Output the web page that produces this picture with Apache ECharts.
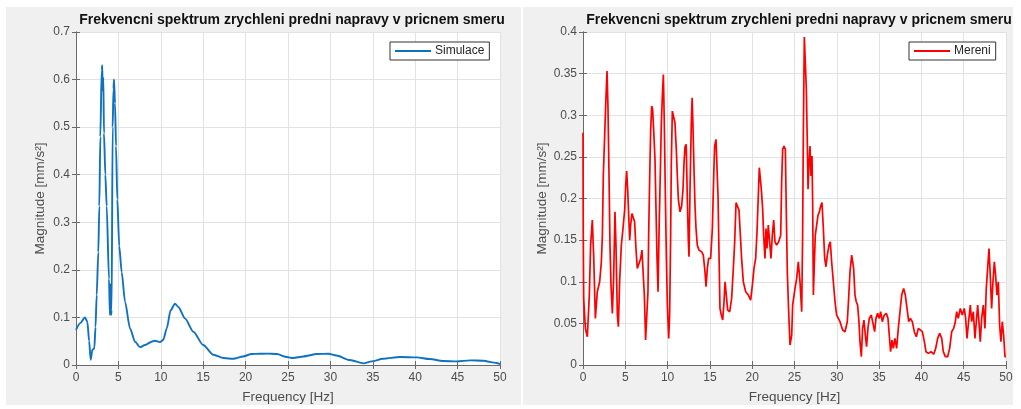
<!DOCTYPE html>
<html>
<head>
<meta charset="utf-8">
<script src="https://cdn.jsdelivr.net/npm/echarts@6/dist/echarts.min.js"></script>
<style>
  html, body { margin: 0; padding: 0; background: #ffffff; }
  #chart { width: 1021px; height: 409px; }
</style>
</head>
<body>
<div id="chart"></div>
<script>
// Titles and labels
const chartTitle = 'Frekvencni spektrum zrychleni predni napravy v pricnem smeru';
const xName = 'Frequency [Hz]';
const yName = 'Magnitude [mm/s²]';
const simName = 'Simulace';
const merName = 'Mereni';

// Simulated spectrum (frequency in Hz, magnitude in mm/s^2)
const simFreq = [0, 0.5, 1.06, 1.34, 1.55, 1.73, 1.93, 2.16, 2.3, 2.44, 2.63, 2.75, 2.87, 3.03, 3.1, 3.14, 3.22, 3.3, 3.46, 3.62, 3.89, 4.0, 4.07, 4.13, 4.2, 4.32, 4.42, 4.48, 4.6, 4.72, 4.87, 5.1, 5.39, 5.78, 6.37, 6.96, 7.55, 8.14, 8.92, 9.3, 9.9, 10.3, 10.7, 11.16, 11.67, 12.07, 12.85, 13.84, 15.0, 16.2, 17.4, 18.55, 19.7, 20.7, 21.7, 22.5, 23.7, 24.85, 25.6, 26.8, 28.4, 29.8, 30.7, 32.3, 33.9, 34.87, 36.2, 38.2, 40.2, 41.7, 43.3, 44.9, 46.5, 48.0, 49.6, 50];
const simMag = [0.074, 0.088, 0.1, 0.091, 0.05, 0.011, 0.032, 0.035, 0.08, 0.147, 0.237, 0.334, 0.48, 0.62, 0.63, 0.577, 0.605, 0.487, 0.4, 0.334, 0.181, 0.105, 0.17, 0.105, 0.115, 0.5, 0.58, 0.6, 0.55, 0.46, 0.348, 0.25, 0.195, 0.133, 0.077, 0.049, 0.0375, 0.042, 0.049, 0.051, 0.048, 0.053, 0.077, 0.115, 0.129, 0.122, 0.098, 0.07, 0.042, 0.0215, 0.0146, 0.013, 0.018, 0.023, 0.0236, 0.024, 0.023, 0.0167, 0.0146, 0.018, 0.023, 0.0236, 0.02, 0.0104, 0.0035, 0.0076, 0.0132, 0.0167, 0.016, 0.0125, 0.0083, 0.0076, 0.0097, 0.009, 0.0042, 0.002];

// Measured spectrum
const merFreq = [0, 0.03, 0.08, 0.28, 0.51, 0.75, 0.9, 1.1, 1.26, 1.46, 1.69, 1.97, 2.17, 2.29, 2.4, 2.56, 2.72, 2.84, 2.95, 3.07, 3.19, 3.31, 3.47, 3.62, 3.78, 3.9, 4.06, 4.18, 4.33, 4.53, 4.73, 4.93, 5.04, 5.16, 5.28, 5.4, 5.52, 5.63, 5.79, 5.95, 6.1, 6.26, 6.42, 6.62, 6.82, 6.97, 7.13, 7.25, 7.4, 7.56, 7.68, 7.76, 7.88, 8.0, 8.12, 8.23, 8.35, 8.51, 8.63, 8.75, 8.87, 8.98, 9.14, 9.26, 9.38, 9.5, 9.61, 9.73, 9.85, 9.97, 10.13, 10.24, 10.36, 10.44, 10.56, 10.72, 10.87, 11.03, 11.15, 11.27, 11.47, 11.66, 11.82, 11.94, 12.06, 12.2, 12.33, 12.45, 12.53, 12.65, 12.8, 12.9, 13.0, 13.12, 13.24, 13.36, 13.51, 13.71, 14.03, 14.22, 14.42, 14.54, 14.7, 14.85, 15.09, 15.29, 15.45, 15.56, 15.72, 15.84, 15.96, 16.08, 16.19, 16.35, 16.51, 16.67, 16.79, 16.94, 17.1, 17.34, 17.57, 17.77, 17.93, 18.09, 18.24, 18.44, 18.6, 18.75, 18.95, 19.23, 19.54, 19.82, 20.02, 20.21, 20.41, 20.57, 20.72, 20.84, 20.96, 21.08, 21.24, 21.35, 21.51, 21.63, 21.75, 21.9, 22.06, 22.22, 22.38, 22.54, 22.69, 22.89, 23.13, 23.37, 23.48, 23.6, 23.76, 23.92, 24.03, 24.15, 24.31, 24.47, 24.67, 24.78, 25.06, 25.26, 25.45, 25.65, 25.85, 25.96, 26.04, 26.16, 26.28, 26.4, 26.52, 26.6, 26.72, 26.83, 26.95, 27.07, 27.15, 27.23, 27.35, 27.46, 27.62, 27.78, 27.94, 28.09, 28.25, 28.41, 28.57, 28.72, 28.88, 29.08, 29.23, 29.39, 29.59, 29.79, 29.98, 30.38, 30.69, 30.97, 31.24, 31.4, 31.56, 31.76, 31.87, 31.99, 32.15, 32.3, 32.46, 32.62, 32.74, 32.9, 33.05, 33.21, 33.37, 33.52, 33.68, 33.84, 34.08, 34.31, 34.47, 34.63, 34.82, 35.02, 35.18, 35.38, 35.61, 35.85, 36.05, 36.2, 36.36, 36.52, 36.68, 36.87, 37.07, 37.27, 37.47, 37.67, 37.9, 38.1, 38.3, 38.5, 38.69, 38.93, 39.16, 39.4, 39.64, 39.87, 40.11, 40.35, 40.54, 40.82, 41.13, 41.45, 41.69, 41.92, 42.16, 42.4, 42.59, 42.83, 43.1, 43.34, 43.58, 43.81, 44.01, 44.17, 44.36, 44.6, 44.83, 45.07, 45.23, 45.39, 45.58, 45.78, 45.94, 46.14, 46.33, 46.49, 46.65, 46.8, 46.96, 47.12, 47.32, 47.51, 47.67, 47.83, 47.99, 48.14, 48.3, 48.46, 48.62, 48.77, 48.93, 49.09, 49.25, 49.4, 49.56, 49.72, 49.88, 50];
const merMag = [0.279, 0.16, 0.08, 0.044, 0.034, 0.084, 0.144, 0.174, 0.132, 0.056, 0.088, 0.1, 0.124, 0.156, 0.227, 0.275, 0.323, 0.353, 0.311, 0.231, 0.144, 0.096, 0.062, 0.104, 0.184, 0.144, 0.06, 0.046, 0.1, 0.144, 0.164, 0.187, 0.215, 0.233, 0.211, 0.18, 0.15, 0.168, 0.182, 0.184, 0.172, 0.14, 0.116, 0.116, 0.128, 0.138, 0.14, 0.084, 0.03, 0.028, 0.088, 0.156, 0.223, 0.283, 0.311, 0.307, 0.283, 0.247, 0.187, 0.128, 0.088, 0.156, 0.231, 0.291, 0.323, 0.349, 0.291, 0.207, 0.132, 0.072, 0.032, 0.06, 0.156, 0.243, 0.305, 0.303, 0.291, 0.259, 0.227, 0.199, 0.184, 0.191, 0.211, 0.243, 0.262, 0.265, 0.2, 0.15, 0.13, 0.21, 0.29, 0.321, 0.287, 0.235, 0.191, 0.164, 0.144, 0.138, 0.136, 0.132, 0.112, 0.094, 0.116, 0.128, 0.128, 0.164, 0.227, 0.263, 0.271, 0.271, 0.203, 0.132, 0.068, 0.06, 0.054, 0.076, 0.1, 0.084, 0.066, 0.064, 0.08, 0.116, 0.148, 0.195, 0.195, 0.186, 0.156, 0.128, 0.1, 0.088, 0.084, 0.078, 0.096, 0.116, 0.128, 0.16, 0.203, 0.237, 0.235, 0.211, 0.187, 0.156, 0.128, 0.164, 0.14, 0.168, 0.148, 0.128, 0.156, 0.174, 0.148, 0.144, 0.148, 0.156, 0.219, 0.259, 0.263, 0.259, 0.184, 0.112, 0.064, 0.024, 0.036, 0.072, 0.092, 0.104, 0.124, 0.1, 0.064, 0.156, 0.271, 0.394, 0.363, 0.331, 0.263, 0.211, 0.243, 0.263, 0.227, 0.251, 0.191, 0.084, 0.124, 0.156, 0.168, 0.18, 0.184, 0.191, 0.195, 0.164, 0.128, 0.118, 0.132, 0.144, 0.148, 0.124, 0.1, 0.076, 0.06, 0.052, 0.042, 0.04, 0.052, 0.08, 0.112, 0.132, 0.134, 0.116, 0.084, 0.076, 0.072, 0.052, 0.028, 0.01, 0.044, 0.054, 0.036, 0.022, 0.044, 0.056, 0.06, 0.06, 0.04, 0.056, 0.062, 0.056, 0.064, 0.052, 0.06, 0.062, 0.056, 0.036, 0.016, 0.03, 0.02, 0.032, 0.02, 0.044, 0.064, 0.084, 0.092, 0.084, 0.068, 0.052, 0.056, 0.052, 0.04, 0.034, 0.044, 0.046, 0.04, 0.028, 0.016, 0.014, 0.016, 0.013, 0.02, 0.032, 0.038, 0.032, 0.016, 0.01, 0.01, 0.02, 0.04, 0.044, 0.052, 0.064, 0.056, 0.068, 0.06, 0.068, 0.056, 0.032, 0.052, 0.072, 0.052, 0.064, 0.032, 0.052, 0.072, 0.052, 0.028, 0.056, 0.072, 0.044, 0.092, 0.116, 0.14, 0.108, 0.068, 0.1, 0.124, 0.108, 0.084, 0.1, 0.048, 0.028, 0.052, 0.036, 0.01, 0.01];

// Axis ranges and tick steps
const xRange = [0, 50, 5];
const simRange = [0, 0.7, 0.1];
const merRange = [0, 0.4, 0.05];

const simColor = '#0f72c0';
const merColor = '#ff0000';
const boxColor = '#6a6a6a';
const gridColor = '#e2e2e2';
const textColor = '#4d4d4d';
const fontFamily = '"Liberation Sans", Arial, Helvetica, sans-serif';

const grids = [
  { left: 76, top: 32, width: 424, height: 335 },
  { left: 583, top: 32, width: 423, height: 335 }
];

function zip(xs, ys) { return xs.map((x, i) => [x, ys[i]]); }

function xAxes(gi) {
  const base = {
    type: 'value', gridIndex: gi, min: xRange[0], max: xRange[1], interval: xRange[2],
    axisLine: { show: true, lineStyle: { color: boxColor, width: 1 } },
    axisTick: { show: true, inside: true, length: 4, lineStyle: { color: boxColor } }
  };
  return [
    Object.assign({}, base, {
      position: 'bottom',
      name: xName, nameLocation: 'middle', nameGap: 25,
      nameTextStyle: { color: textColor, fontSize: 13.5, fontFamily },
      axisLabel: { color: textColor, fontSize: 12, fontFamily, margin: 7 },
      splitLine: { show: true, lineStyle: { color: gridColor, width: 1 } }
    }),
    Object.assign({}, base, {
      position: 'top', axisLabel: { show: false }, splitLine: { show: false }
    })
  ];
}

function yAxes(gi, range) {
  const base = {
    type: 'value', gridIndex: gi, min: range[0], max: range[1], interval: range[2],
    axisLine: { show: true, lineStyle: { color: boxColor, width: 1 } },
    axisTick: { show: true, inside: true, length: 4, lineStyle: { color: boxColor } }
  };
  return [
    Object.assign({}, base, {
      position: 'left',
      name: yName, nameLocation: 'middle', nameGap: 29,
      nameTextStyle: { color: textColor, fontSize: 13.5, fontFamily },
      axisLabel: { color: textColor, fontSize: 12, fontFamily, margin: 6 },
      splitLine: { show: true, lineStyle: { color: gridColor, width: 1 } }
    }),
    Object.assign({}, base, {
      position: 'right', axisLabel: { show: false }, splitLine: { show: false }
    })
  ];
}

const legendBase = {
  orient: 'vertical', icon: 'rect', itemWidth: 36, itemHeight: 2, itemGap: 0,
  padding: [3, 5, 3, 5], borderColor: '#333333', borderWidth: 1, backgroundColor: '#ffffff',
  textStyle: { color: '#262626', fontSize: 12, fontFamily, padding: [0, 0, 0, -1] }
};

const titleStyle = { fontSize: 14, fontWeight: 'bold', color: '#111', fontFamily };

const option = {
  animation: false,
  backgroundColor: '#ffffff',
  graphic: [
    { type: 'rect', z: -10, silent: true, shape: { x: 6, y: 7, width: 515, height: 398 }, style: { fill: '#f0f0f0' } },
    { type: 'rect', z: -10, silent: true, shape: { x: 523, y: 7, width: 490, height: 398 }, style: { fill: '#f0f0f0' } }
  ],
  title: [
    { text: chartTitle, left: 287, top: 8, textAlign: 'center', textStyle: titleStyle },
    { text: chartTitle, left: 794, top: 8, textAlign: 'center', textStyle: titleStyle }
  ],
  legend: [
    Object.assign({}, legendBase, { data: [simName], left: 390, top: 42 }),
    Object.assign({}, legendBase, { data: [merName], left: 909, top: 42 })
  ],
  grid: grids.map(g => Object.assign({ show: true, backgroundColor: '#ffffff', borderWidth: 0 }, g)),
  xAxis: [...xAxes(0), ...xAxes(1)],
  yAxis: [...yAxes(0, simRange), ...yAxes(1, merRange)],
  series: [
    {
      name: simName, type: 'line', xAxisIndex: 0, yAxisIndex: 0,
      data: zip(simFreq, simMag), showSymbol: false, symbol: 'none',
      smooth: 0.25, smoothMonotone: 'x',
      lineStyle: { color: simColor, width: 1.9 }, itemStyle: { color: simColor }
    },
    {
      name: merName, type: 'line', xAxisIndex: 2, yAxisIndex: 2,
      data: zip(merFreq, merMag), showSymbol: false, symbol: 'none',
      lineStyle: { color: merColor, width: 1.7 }, itemStyle: { color: merColor }
    }
  ]
};

const chart = echarts.init(document.getElementById('chart'), null, { renderer: 'canvas' });
chart.setOption(option);
</script>
</body>
</html>
